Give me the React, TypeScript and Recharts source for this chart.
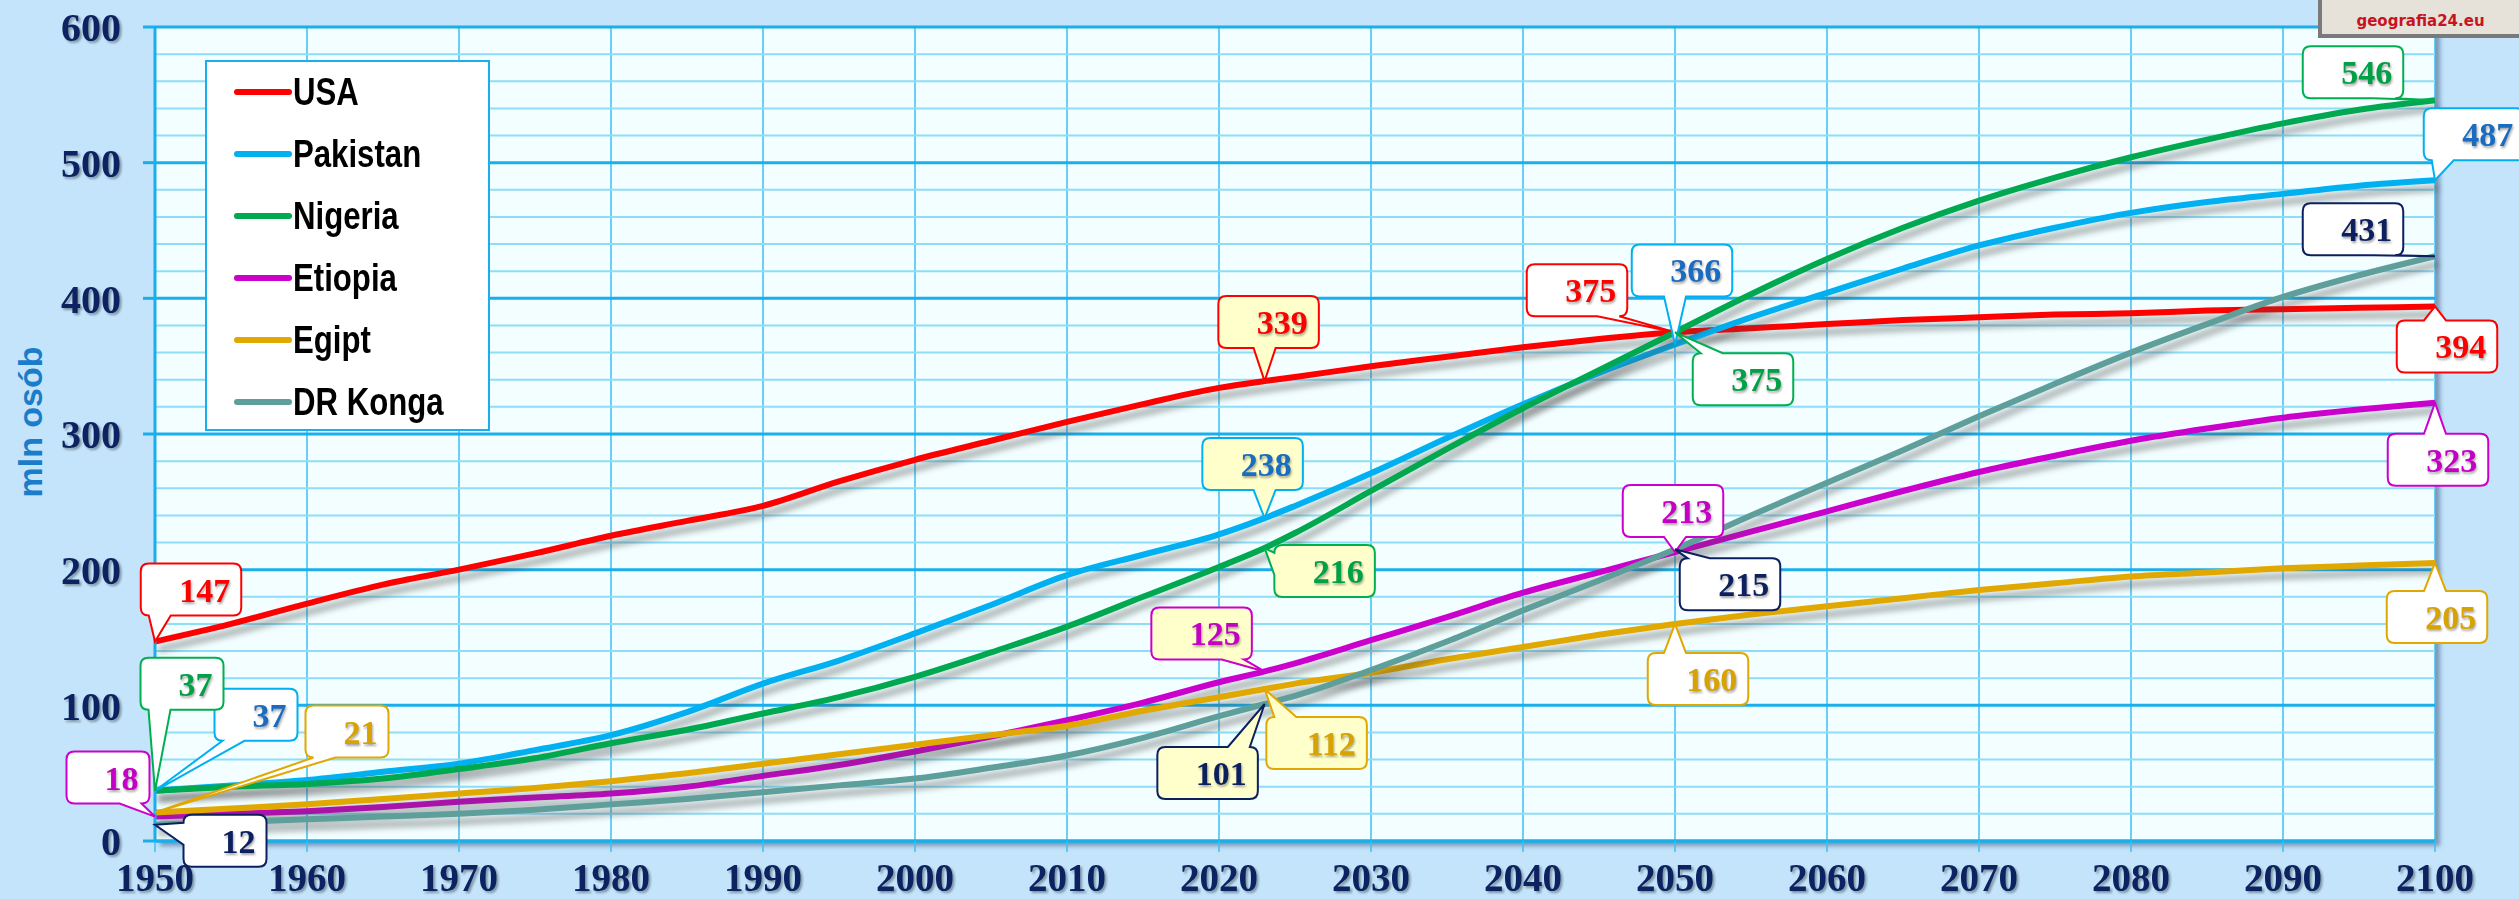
import React from 'react';
import { LineChart, Line, XAxis, YAxis, CartesianGrid, ReferenceLine, Legend, Label } from 'recharts';

// lata (co 5 lat + 2023)
const years = [
  1950, 1955, 1960, 1965, 1970, 1975, 1980, 1985, 1990, 1995, 2000, 2005, 2010, 2015, 2020, 2023,
  2025, 2030, 2035, 2040, 2045, 2050, 2055, 2060, 2065, 2070, 2075, 2080, 2085, 2090, 2095, 2100,
];

// ludność w mln
const usa = [147, 160, 175, 189, 200, 212, 225, 236, 247, 265, 281, 295, 309, 322, 334, 339, 342, 350, 357, 364, 370, 375, 378, 381, 384, 386, 388, 389, 391, 392, 393, 394];
const pakistan = [37, 41, 45, 51, 57, 67, 78, 95, 116, 133, 153, 174, 196, 211, 226, 238, 247, 271, 297, 322, 345, 366, 386, 404, 422, 439, 452, 463, 471, 477, 483, 487];
const nigeria = [37, 40, 42, 46, 53, 61, 72, 82, 94, 106, 121, 139, 158, 180, 202, 216, 227, 258, 289, 319, 347, 375, 403, 429, 452, 472, 489, 504, 517, 529, 539, 546];
const etiopia = [18, 20, 22, 25, 29, 32, 35, 40, 48, 56, 66, 77, 89, 102, 117, 125, 131, 148, 165, 183, 198, 213, 228, 243, 258, 272, 284, 295, 304, 312, 318, 323];
const egipt = [21, 24, 27, 31, 35, 39, 44, 50, 57, 64, 71, 78, 85, 96, 106, 112, 116, 124, 134, 143, 152, 160, 167, 173, 179, 185, 190, 195, 198, 201, 203, 205];
const drKonga = [12, 14, 16, 18, 20, 23, 27, 31, 36, 41, 46, 54, 63, 76, 92, 101, 107, 126, 147, 170, 192, 215, 240, 264, 288, 313, 337, 360, 381, 401, 417, 431];

const xTicks = [1950, 1960, 1970, 1980, 1990, 2000, 2010, 2020, 2030, 2040, 2050, 2060, 2070, 2080, 2090, 2100];
const yTicks = [0, 100, 200, 300, 400, 500, 600];
const minorTicks = [20, 40, 60, 80, 120, 140, 160, 180, 220, 240, 260, 280, 320, 340, 360, 380, 420, 440, 460, 480, 520, 540, 560, 580];

const data = years.map((year, i) => ({
  year,
  usa: usa[i],
  pakistan: pakistan[i],
  nigeria: nigeria[i],
  etiopia: etiopia[i],
  egipt: egipt[i],
  drKonga: drKonga[i],
}));

const series = [
  { key: 'usa', name: 'USA', color: '#ff0000', text: '#ff0000', border: '#ff0000' },
  { key: 'pakistan', name: 'Pakistan', color: '#00b0f0', text: '#1a6cc0', border: '#00b0f0' },
  { key: 'nigeria', name: 'Nigeria', color: '#00a84f', text: '#00a046', border: '#00b050' },
  { key: 'etiopia', name: 'Etiopia', color: '#cc00cc', text: '#c400c4', border: '#cc00cc' },
  { key: 'egipt', name: 'Egipt', color: '#e0a800', text: '#d8a200', border: '#e0a800' },
  { key: 'drKonga', name: 'DR Konga', color: '#5f9f9b', text: '#0c1f5e', border: '#0c1f5e' },
];

// dymki: przesunięcie środka dymka względem punktu
const callouts = [
  { key: 'usa', year: 1950, dx: 36, dy: -52 },
  { key: 'nigeria', year: 1950, dx: 27, dy: -107 },
  { key: 'pakistan', year: 1950, dx: 101, dy: -76 },
  { key: 'egipt', year: 1950, dx: 192, dy: -81 },
  { key: 'etiopia', year: 1950, dx: -47, dy: -39 },
  { key: 'drKonga', year: 1950, dx: 70, dy: 16 },
  { key: 'usa', year: 2023, dx: 4, dy: -59, hl: true },
  { key: 'pakistan', year: 2023, dx: -12, dy: -54, hl: true },
  { key: 'nigeria', year: 2023, dx: 60, dy: 23, hl: true },
  { key: 'etiopia', year: 2023, dx: -63, dy: -38, hl: true },
  { key: 'egipt', year: 2023, dx: 52, dy: 54, hl: true },
  { key: 'drKonga', year: 2023, dx: -57, dy: 69, hl: true },
  { key: 'usa', year: 2050, dx: -98, dy: -42 },
  { key: 'pakistan', year: 2050, dx: 7, dy: -74 },
  { key: 'nigeria', year: 2050, dx: 68, dy: 47 },
  { key: 'etiopia', year: 2050, dx: -2, dy: -41 },
  { key: 'drKonga', year: 2050, dx: 55, dy: 35 },
  { key: 'egipt', year: 2050, dx: 23, dy: 55 },
  { key: 'nigeria', year: 2100, dx: -82, dy: -28 },
  { key: 'pakistan', year: 2100, dx: 39, dy: -46 },
  { key: 'drKonga', year: 2100, dx: -82, dy: -27 },
  { key: 'usa', year: 2100, dx: 12, dy: 40 },
  { key: 'etiopia', year: 2100, dx: 3, dy: 57 },
  { key: 'egipt', year: 2100, dx: 2, dy: 54 },
];

const clamp = (v: number, a: number, b: number) => Math.max(a, Math.min(b, v));

function bubblePath(l: number, t: number, r: number, b: number, px: number, py: number) {
  const rr = 8;
  const bw = 22;
  let side = 'right';
  if (py >= b) side = 'bottom';
  else if (py <= t) side = 'top';
  else if (px < l) side = 'left';
  const bx1 = clamp(px - bw / 2, l + rr, r - rr - bw);
  const bx2 = bx1 + bw;
  const by1 = clamp(py - bw / 2, t + rr, b - rr - bw);
  const by2 = by1 + bw;
  let d = `M${l + rr},${t} `;
  if (side === 'top') d += `H${bx1} L${px},${py} L${bx2},${t} `;
  d += `H${r - rr} Q${r},${t} ${r},${t + rr} `;
  if (side === 'right') d += `V${by1} L${px},${py} L${r},${by2} `;
  d += `V${b - rr} Q${r},${b} ${r - rr},${b} `;
  if (side === 'bottom') d += `H${bx2} L${px},${py} L${bx1},${b} `;
  d += `H${l + rr} Q${l},${b} ${l},${b - rr} `;
  if (side === 'left') d += `V${by2} L${px},${py} L${l},${by1} `;
  d += `V${t + rr} Q${l},${t} ${l + rr},${t} Z`;
  return d;
}

const renderCallout = (s: (typeof series)[number]) => (props: any) => {
  const { x, y, value, index } = props;
  const year = props.payload?.year ?? data[index]?.year;
  const c = callouts.find((o) => o.key === s.key && o.year === year);
  if (!c || x == null || y == null) return <g key={`e-${s.key}-${index}`} />;
  const text = String(Math.round(Number(value)));
  const w = 48 + text.length * 17.5;
  const h = 52;
  const cx = x + c.dx;
  const cy = y + c.dy;
  const l = cx - w / 2;
  const r = cx + w / 2;
  const t = cy - h / 2;
  const b = cy + h / 2;
  return (
    <g key={`c-${s.key}-${year}`}>
      <path d={bubblePath(l, t, r, b, x, y)} fill={c.hl ? '#ffffcc' : '#ffffff'} stroke={s.border} strokeWidth={2} />
      <text
        className="callout-text"
        x={r - 11}
        y={cy + 12}
        textAnchor="end"
        fill={s.text}
        fontFamily="'Liberation Serif', serif"
        fontWeight={700}
        fontSize={34}
      >
        {text}
      </text>
    </g>
  );
};

const renderLegend = () => (
  <div style={{ width: 285, height: 371, background: '#fff', border: '2px solid #1aaeea', boxSizing: 'border-box', position: 'relative' }}>
    {series.map((s, i) => (
      <div key={s.key} style={{ position: 'absolute', left: 26, top: 8 + i * 62, height: 44, display: 'flex', alignItems: 'center' }}>
        <svg width={60} height={10} style={{ display: 'block' }}>
          <line x1={4} y1={5} x2={56} y2={5} stroke={s.color} strokeWidth={6} strokeLinecap="round" />
        </svg>
        <span
          style={{
            display: 'inline-block',
            fontFamily: "'Liberation Sans', Arial, sans-serif",
            fontWeight: 700,
            fontSize: 38,
            color: '#000',
            transform: 'scaleX(0.82)',
            transformOrigin: 'left center',
            whiteSpace: 'nowrap',
            lineHeight: '44px',
          }}
        >
          {s.name}
        </span>
      </div>
    ))}
  </div>
);

const YTitle = () => (
  <text
    x={42}
    y={422}
    transform="rotate(-90 42 422)"
    textAnchor="middle"
    fill="#1b7dc9"
    fontFamily="'Liberation Sans', Arial, sans-serif"
    fontWeight={700}
    fontSize={34}
  >
    mln osób
  </text>
);

const css = `
body { margin: 0; }
.recharts-line-curve { filter: drop-shadow(3px 8px 3px rgba(70,70,70,0.45)); }
.recharts-cartesian-axis-tick-value { filter: drop-shadow(2px 2px 1px rgba(0,0,0,0.35)); }
.callout-text { filter: drop-shadow(1px 2px 1px rgba(0,0,0,0.35)); }
.recharts-cartesian-grid-bg { filter: drop-shadow(5px 5px 2px rgba(60,90,130,0.55)); }
`;

export default function App() {
  return (
    <div style={{ position: 'relative', width: 2519, height: 899, background: '#c3e4fb', overflow: 'hidden' }}>
      <style>{css}</style>
      <LineChart width={2519} height={899} data={data} margin={{ top: 27, right: 84, left: 0, bottom: 0 }}>
        <CartesianGrid horizontal={false} vertical fill="#f2feff" stroke="#3cbff0" strokeWidth={1.5} />
        {minorTicks.map((v) => (
          <ReferenceLine key={`m${v}`} y={v} stroke="#8edcf6" strokeWidth={2} />
        ))}
        {yTicks.map((v) => (
          <ReferenceLine key={`M${v}`} y={v} stroke="#1aaeea" strokeWidth={3} />
        ))}
        <XAxis
          dataKey="year"
          type="number"
          domain={[1950, 2100]}
          ticks={xTicks}
          interval={0}
          height={58}
          tickSize={11}
          tickMargin={11}
          axisLine={{ stroke: '#1aaeea', strokeWidth: 3 }}
          tickLine={{ stroke: '#3cbff0', strokeWidth: 1.5 }}
          tick={{ fill: '#0d2260', fontSize: 39, fontWeight: 700, fontFamily: "'Liberation Serif', serif" }}
        />
        <YAxis
          type="number"
          domain={[0, 600]}
          ticks={yTicks}
          interval={0}
          width={155}
          tickSize={12}
          tickMargin={22}
          axisLine={{ stroke: '#1aaeea', strokeWidth: 3 }}
          tickLine={{ stroke: '#1aaeea', strokeWidth: 3 }}
          tick={{ fill: '#0d2260', fontSize: 40, fontWeight: 700, fontFamily: "'Liberation Serif', serif" }}
        >
          <Label content={<YTitle />} />
        </YAxis>
        <Legend
          layout="vertical"
          align="center"
          verticalAlign="middle"
          content={renderLegend}
          wrapperStyle={{ left: 205, top: 60, width: 285, height: 371 }}
        />
        {series.map((s) => (
          <Line
            key={s.key}
            type="monotone"
            dataKey={s.key}
            name={s.name}
            stroke={s.color}
            strokeWidth={6}
            dot={false}
            activeDot={false}
            isAnimationActive={false}
            label={renderCallout(s)}
          />
        ))}
      </LineChart>
      <div
        style={{
          position: 'absolute',
          left: 2318,
          top: 0,
          width: 201,
          height: 38,
          boxSizing: 'border-box',
          background: '#e6e2da',
          borderLeft: '4px solid #7a7a7a',
          borderBottom: '4px solid #7a7a7a',
          display: 'flex',
          alignItems: 'flex-end',
          justifyContent: 'center',
          paddingBottom: 4,
          color: '#c8141e',
          fontFamily: "'DejaVu Sans', sans-serif",
          fontWeight: 700,
          fontSize: 15,
        }}
      >
        geografia24.eu
      </div>
    </div>
  );
}
